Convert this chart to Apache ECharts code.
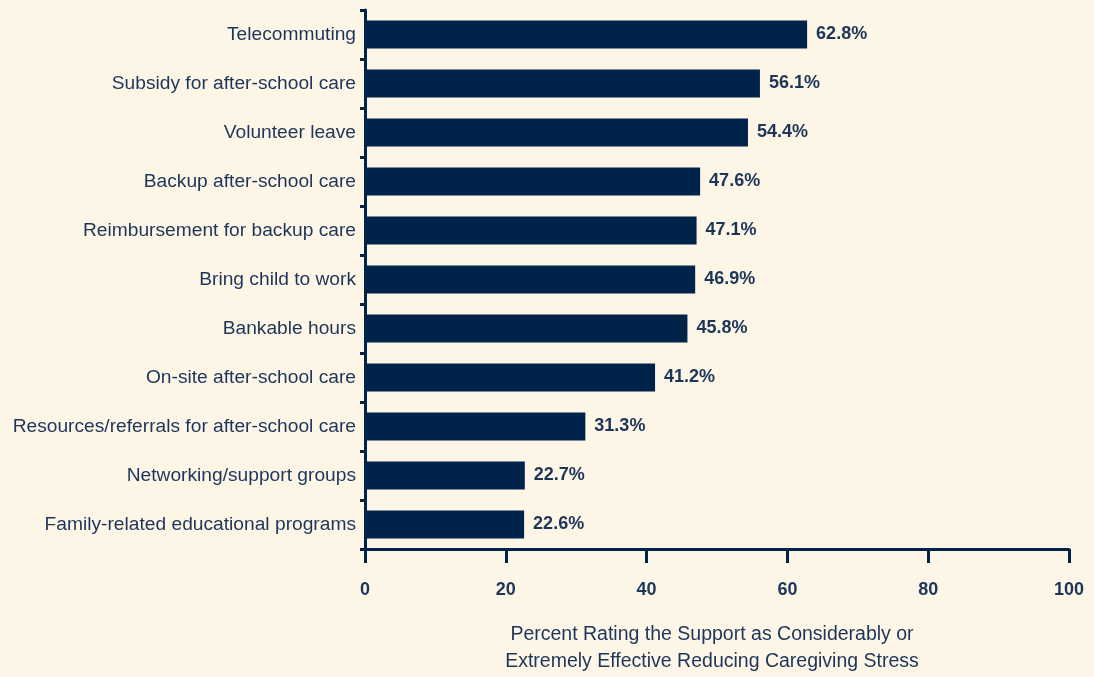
<!DOCTYPE html>
<html>
<head>
<meta charset="utf-8">
<script src="https://cdn.jsdelivr.net/npm/echarts@6/dist/echarts.min.js"></script>
<style>
  html, body { margin: 0; padding: 0; background: #fdf5e6; }
  #chart { width: 1094px; height: 677px; }
</style>
</head>
<body>
<div id="chart"></div>
<script>
// supports, top to bottom
const categories = [
  "Telecommuting",
  "Subsidy for after-school care",
  "Volunteer leave",
  "Backup after-school care",
  "Reimbursement for backup care",
  "Bring child to work",
  "Bankable hours",
  "On-site after-school care",
  "Resources/referrals for after-school care",
  "Networking/support groups",
  "Family-related educational programs"
];
const values = [62.8, 56.1, 54.4, 47.6, 47.1, 46.9, 45.8, 41.2, 31.3, 22.7, 22.6];
const xTicks = [0, 20, 40, 60, 80, 100];
const axisTitle = "Percent Rating the Support as Considerably or\nExtremely Effective Reducing Caregiving Stress";

const navy = "#00234a";
const textColor = "#1c3659";
const font = "'Liberation Sans', sans-serif";

const chart = echarts.init(document.getElementById("chart"));
const option = {
  backgroundColor: "#fdf5e6",
  animation: false,
  grid: {
    left: 365,
    right: 25,
    top: 10,
    bottom: 128,
    containLabel: false,
    outerBoundsMode: "none"
  },
  title: {
    text: axisTitle,
    left: 707,
    top: 616,
    textAlign: "center",
    textStyle: {
      fontFamily: font,
      fontSize: 19.5,
      fontWeight: "normal",
      color: textColor,
      lineHeight: 27
    }
  },
  xAxis: {
    type: "value",
    min: xTicks[0],
    max: xTicks[xTicks.length - 1],
    interval: 20,
    axisLine: {
      show: true,
      lineStyle: { color: navy, width: 3 }
    },
    axisTick: {
      show: true,
      length: 14,
      lineStyle: { color: navy, width: 3 }
    },
    axisLabel: {
      margin: 32,
      fontFamily: font,
      fontSize: 18,
      fontWeight: "bold",
      color: textColor
    },
    splitLine: { show: false }
  },
  yAxis: {
    type: "category",
    inverse: true,
    data: categories,
    axisLine: {
      show: true,
      lineStyle: { color: navy, width: 3 }
    },
    axisTick: {
      show: true,
      length: 5,
      lineStyle: { color: navy, width: 3 }
    },
    axisLabel: {
      margin: 9,
      fontFamily: font,
      fontSize: 19.2,
      color: textColor
    }
  },
  series: [
    {
      type: "bar",
      data: values,
      barWidth: 28,
      itemStyle: { color: navy },
      label: {
        show: true,
        position: "right",
        distance: 9,
        formatter: p => p.value.toFixed(1) + "%",
        fontFamily: font,
        fontSize: 18,
        fontWeight: "bold",
        color: textColor
      }
    }
  ]
};
chart.setOption(option);
</script>
</body>
</html>
